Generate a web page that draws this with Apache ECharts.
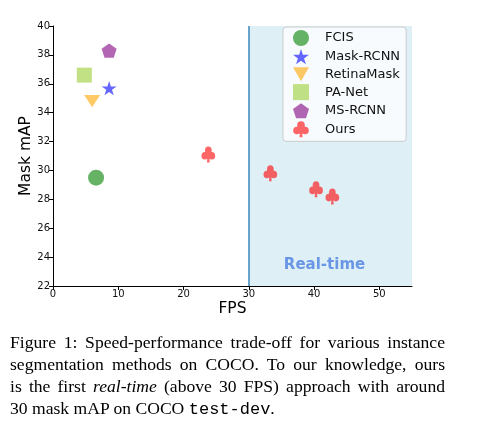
<!DOCTYPE html>
<html><head><meta charset="utf-8">
<script src="https://cdn.jsdelivr.net/npm/echarts@6/dist/echarts.min.js"></script>
<style>
html,body{margin:0;padding:0;background:#fff;}
#chart{position:absolute;left:0;top:0;width:477px;height:430px;}
#cap{position:absolute;left:10px;top:331px;width:435px;font-family:"Liberation Serif","Times New Roman",serif;font-size:17.6px;line-height:22px;color:#000;}
#cap span{display:block;text-align:justify;text-align-last:justify;white-space:nowrap;}
#cap span.last{text-align:left;text-align-last:left;}
#cap code{font-family:"Liberation Mono",monospace;font-size:17px;}
</style></head>
<body>
<div id="chart"></div>
<div id="cap"><span>Figure 1: Speed-performance trade-off for various instance</span><span>segmentation methods on COCO. To our knowledge, ours</span><span>is the first <i>real-time</i> (above 30 FPS) approach with around</span><span class="last">30 mask mAP on COCO <code>test-dev</code>.</span></div>
<script>
const methods = ['FCIS','Mask-RCNN','RetinaMask','PA-Net','MS-RCNN','Ours'];
const fcis = [[6.6, 29.5]];
const maskRcnn = [[8.6, 35.7]];
const retinaMask = [[6.0, 34.8]];
const paNet = [[4.8, 36.6]];
const msRcnn = [[8.6, 38.3]];
const ours = [[23.8, 31.1],[33.3, 29.8],[40.3, 28.7],[42.8, 28.2]];
const xTicks = [0,10,20,30,40,50];
const yTicks = [22,24,26,28,30,32,34,36,38,40];
const realTimeStart = 30;
const realTimeLabelPos = [41.6, 23.45];

const STAR = 'path://M50,0 L61.23,34.55 L97.55,34.55 L68.17,55.9 L79.39,90.45 L50,69.1 L20.61,90.45 L31.83,55.9 L2.45,34.55 L38.77,34.55 Z';
const PENT = 'path://M50,0 L97.55,34.55 L79.39,90.45 L20.61,90.45 L2.45,34.55 Z';
const TRI = 'path://M0,0 L100,0 L50,87 Z';
const CLUB = 'path://M27,26 A23,23 0 1,1 73,26 A23,23 0 1,1 27,26 Z M3,58 A23,23 0 1,1 49,58 A23,23 0 1,1 3,58 Z M51,58 A23,23 0 1,1 97,58 A23,23 0 1,1 51,58 Z M45,40 L55,40 L59,99 L41,99 Z';

const font = 'DejaVu Sans';
function sc(name, data, symbol, size, color){
  return {name, type:'scatter', data, symbol, symbolSize:size, symbolKeepAspect:true,
    itemStyle:{color, opacity:0.6}, z:3};
}
const chart = echarts.init(document.getElementById('chart'));
chart.setOption({
  animation:false,
  grid:{left:53, right:65, top:26, bottom:144},
  xAxis:{type:'value', min:0, max:55, interval:10, name:'FPS', nameLocation:'middle', nameGap:15, nameMoveOverlap:false,
    nameTextStyle:{fontFamily:font, fontSize:15.5, color:'#000'},
    axisLine:{lineStyle:{color:'#000', width:1}}, axisTick:{length:4, lineStyle:{color:'#000'}},
    axisLabel:{fontFamily:font, fontSize:10, color:'#111', margin:3, showMaxLabel:false,
      formatter: v => xTicks.includes(v) ? String(v) : ''},
    splitLine:{show:false}},
  yAxis:{type:'value', min:22, max:40, interval:2, name:'Mask mAP', nameLocation:'middle', nameGap:19, nameMoveOverlap:false,
    nameTextStyle:{fontFamily:font, fontSize:15.5, color:'#000'},
    axisLine:{show:true, lineStyle:{color:'#000', width:1}}, axisTick:{show:true, length:4, lineStyle:{color:'#000'}},
    axisLabel:{fontFamily:font, fontSize:10, color:'#111', margin:3,
      formatter: v => yTicks.includes(v) ? String(v) : ''},
    splitLine:{show:false}},
  legend:{data:methods, orient:'vertical', left:283, top:27, itemWidth:16, itemHeight:16, itemGap:3,
    padding:[3,6,4,10], backgroundColor:'rgba(255,255,255,0.75)', borderColor:'#cccccc', borderWidth:1, borderRadius:3,
    textStyle:{fontFamily:font, fontSize:13, color:'#111', padding:[0,0,0,11]}},
  series:[
    {name:'bg', type:'scatter', data:[], z:1, silent:true,
      markArea:{silent:true, itemStyle:{color:'rgba(173,216,230,0.4)'}, data:[[{xAxis:realTimeStart, yAxis:22},{xAxis:55, yAxis:40}]]},
      markLine:{silent:true, symbol:'none', label:{show:false}, lineStyle:{color:'#3a87bf', width:1.5, type:'solid'}, data:[{xAxis:realTimeStart}]},
      markPoint:{silent:true, symbol:'circle', symbolSize:1, itemStyle:{color:'rgba(0,0,0,0)'},
        data:[{coord:realTimeLabelPos, value:'Real-time'}],
        label:{show:true, position:'inside', formatter:'Real-time', fontFamily:font, fontWeight:'bold', fontSize:15, color:'#6a96e6'}}
    },
    sc('FCIS', fcis, 'circle', 16, 'green'),
    sc('Mask-RCNN', maskRcnn, STAR, 15, 'blue'),
    sc('RetinaMask', retinaMask, TRI, [16,14], 'orange'),
    sc('PA-Net', paNet, 'rect', 15, 'yellowgreen'),
    sc('MS-RCNN', msRcnn, PENT, 15, 'purple'),
    sc('Ours', ours, CLUB, [14,16], 'red')
  ]
});
</script>
</body></html>
